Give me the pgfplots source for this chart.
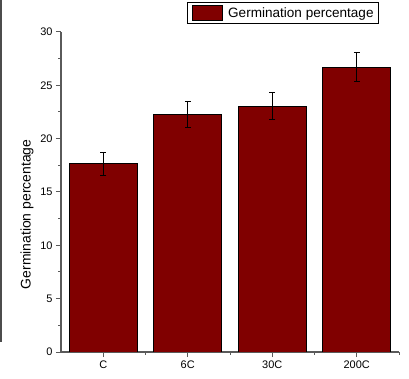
\documentclass[border=0pt]{standalone}
\usepackage{pgfplots}
\pgfplotsset{compat=1.18}
\usepackage{pgfplotstable}
\usepackage{fontspec}
\setmainfont{Liberation Sans}
\definecolor{barred}{HTML}{800000}
\definecolor{axisgray}{HTML}{5A5A5A}

% germination percentage per treatment, with standard error
\pgfplotstableread{
x label value err
0 C    17.65 1.07
1 6C   22.24 1.24
2 30C  23.06 1.31
3 200C 26.68 1.36
}\germdata

\begin{document}
\begin{tikzpicture}
\useasboundingbox (0,0) rectangle (409bp,379bp);
\fill[black!70] (0,37bp) rectangle (1.8bp,379bp);
\begin{axis}[
  at={(61bp,27bp)}, anchor=south west,
  scale only axis, width=338bp, height=320bp,
  xmin=-0.5, xmax=3.5, ymin=0, ymax=30,
  axis lines*=left,
  axis line style={axisgray, line width=1.2bp},
  xtick=data, xticklabels={C,6C,30C,200C},
  minor xtick={0.5,1.5,2.5,3.5},
  ytick={0,5,...,30}, minor ytick={2.5,7.5,...,27.5},
  tick align=outside,
  major tick length=5bp, minor tick length=2.5bp,
  tick style={axisgray, line width=1bp},
  tick label style={font=\fontsize{11}{13}\selectfont},
  /pgf/number format/assume math mode=true,
  ylabel={Germination percentage},
  ylabel style={font=\fontsize{14}{16}\selectfont, at={(axis description cs:-0.1006,0.43)}, anchor=center},
  legend style={at={(rel axis cs:0.3728,1.095)}, anchor=north west,
    draw=black, line width=0.8bp, inner xsep=5bp, inner ysep=3bp,
    font=\fontsize{13.6}{15}\selectfont, legend cell align=left,
    nodes={inner sep=0pt},
    /tikz/every odd column/.append style={column sep=5bp}},
  legend image code/.code={\fill[barred, draw=black, line width=0.8bp] (0bp,-7.5bp) rectangle (30bp,7.5bp);},
]
\addplot[ybar, bar width=0.805, fill=barred, draw=black, line width=0.8bp,
  error bars/.cd, y dir=both, y explicit,
  error bar style={black, line width=1bp},
  error mark options={rotate=90, mark size=3bp, black, line width=1bp}]
  table[x=x, y=value, y error=err] {\germdata};
\addlegendentry{Germination percentage\hspace{4bp}}
\end{axis}
\end{tikzpicture}
\end{document}
